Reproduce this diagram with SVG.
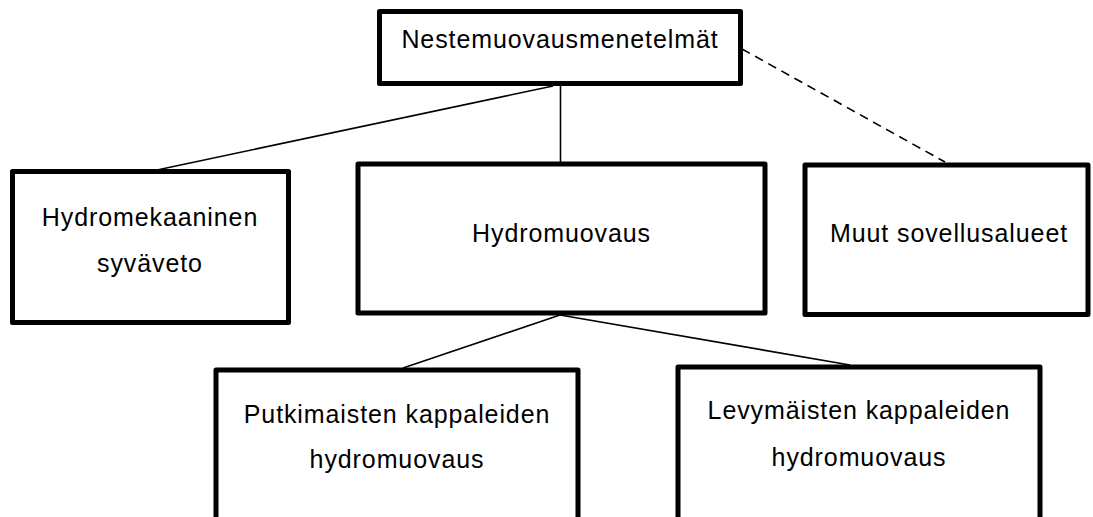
<svg xmlns="http://www.w3.org/2000/svg" width="1093" height="517" viewBox="0 0 1093 517">
<style>
.box{fill:#fff;stroke:#000;stroke-width:5;stroke-linejoin:round}
.t{font-family:"Liberation Sans",Arial,sans-serif;font-size:25px;letter-spacing:0.9px;fill:#000;text-anchor:middle}
.c{stroke:#000;stroke-width:1.6;fill:none}
.d{stroke-dasharray:9 6}
</style>
<rect width="1093" height="517" fill="#fff"/>
<g id="connectors">
<line class="c" x1="553" y1="86" x2="157" y2="170"/>
<line class="c" x1="560.5" y1="86" x2="560.5" y2="163"/>
<line class="c d" x1="742" y1="49" x2="945" y2="162"/>
<line class="c" x1="560" y1="315" x2="403" y2="368"/>
<line class="c" x1="560" y1="315" x2="850" y2="365"/>
</g>
<g id="n_top">
<rect class="box" x="379.5" y="11.5" width="361" height="72"/>
<text class="t" x="560" y="48">Nestemuovausmenetelmät</text>
</g>
<g id="n_hydromek">
<rect class="box" x="12.5" y="171.5" width="276" height="151"/>
<text class="t" x="150" y="225.5">Hydromekaaninen</text>
<text class="t" x="150" y="271.5">syväveto</text>
</g>
<g id="n_hydromuov">
<rect class="box" x="358" y="164" width="407" height="149"/>
<text class="t" x="561.5" y="241.5">Hydromuovaus</text>
</g>
<g id="n_muut">
<rect class="box" x="805" y="165" width="283" height="149.5"/>
<text class="t" x="949" y="241.5">Muut sovellusalueet</text>
</g>
<g id="n_putki">
<rect class="box" x="216" y="370" width="362" height="170"/>
<text class="t" x="397" y="423">Putkimaisten kappaleiden</text>
<text class="t" x="397" y="468">hydromuovaus</text>
</g>
<g id="n_levy">
<rect class="box" x="678" y="367" width="362" height="170"/>
<text class="t" x="859" y="419">Levymäisten kappaleiden</text>
<text class="t" x="859" y="465.5">hydromuovaus</text>
</g>
</svg>
